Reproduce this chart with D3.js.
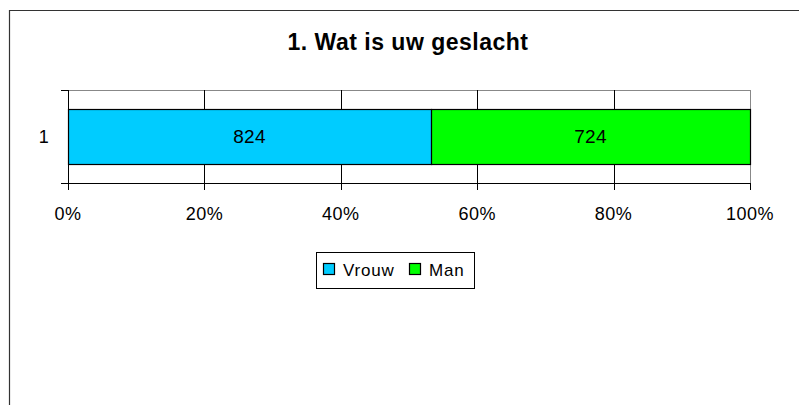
<!DOCTYPE html>
<html lang="nl">
<head>
  <meta charset="UTF-8">
  <title>1. Wat is uw geslacht</title>
  <script src="https://d3js.org/d3.v7.min.js"></script>
  <style>
    body { margin: 0; background: #fff; }
    text { font-family: "Liberation Sans", Arial, sans-serif; fill: #000; }
    .title { font-size: 23px; font-weight: bold; letter-spacing: 0.5px; }
    .tick-label { font-size: 18px; letter-spacing: 0.5px; }
    .bar-label { font-size: 19px; letter-spacing: 0.3px; }
    .legend-label { font-size: 17px; letter-spacing: 0.8px; }
  </style>
</head>
<body>
  <div id="chart"></div>
  <script>
    // data
    const categories = ["1"];
    const seriesNames = ["Vrouw", "Man"];
    const seriesColors = ["#00ccff", "#00ff00"];
    const vrouw = [824];
    const man = [724];
    const tickValues = [0, 0.2, 0.4, 0.6, 0.8, 1];

    const W = 799, H = 405;
    const plot = { left: 68, right: 750, top: 90, bottom: 183 };

    const svg = d3.select("#chart").append("svg")
      .attr("width", W).attr("height", H);

    // chart frame (only the top and left edges are visible)
    svg.append("path")
      .attr("d", `M9.5,${H} V10.5 H${W}`)
      .attr("fill", "none").attr("stroke", "#333").attr("stroke-width", 1.2);

    svg.append("text").attr("class", "title")
      .attr("x", 408).attr("y", 50).attr("text-anchor", "middle")
      .text("1. Wat is uw geslacht");

    const x = d3.scaleLinear().domain([0, 1]).range([plot.left, plot.right]);
    const y = d3.scaleBand().domain(categories)
      .range([plot.top, plot.bottom]).padding(0.257);

    // plot area border
    svg.append("rect")
      .attr("x", plot.left + 0.5).attr("y", plot.top + 0.5)
      .attr("width", plot.right - plot.left).attr("height", plot.bottom - plot.top)
      .attr("fill", "none").attr("stroke", "#888");

    // gridlines
    svg.selectAll(".grid").data(tickValues.slice(1, -1)).enter().append("line")
      .attr("x1", d => Math.round(x(d)) + 0.5).attr("x2", d => Math.round(x(d)) + 0.5)
      .attr("y1", plot.top).attr("y2", plot.bottom)
      .attr("stroke", "#000");

    // stacked bars (100%)
    const rows = categories.map((c, i) => {
      const total = vrouw[i] + man[i];
      return { cat: c, parts: [
        { name: seriesNames[0], v: vrouw[i], x0: 0, x1: vrouw[i] / total, color: seriesColors[0] },
        { name: seriesNames[1], v: man[i], x0: vrouw[i] / total, x1: 1, color: seriesColors[1] }
      ] };
    });

    rows.forEach(r => {
      const g = svg.append("g");
      g.selectAll("rect").data(r.parts).enter().append("rect")
        .attr("x", d => x(d.x0) + 0.5)
        .attr("y", Math.round(y(r.cat)) + 0.5)
        .attr("width", d => x(d.x1) - x(d.x0))
        .attr("height", Math.round(y.bandwidth()))
        .attr("fill", d => d.color)
        .attr("stroke", "#000").attr("stroke-width", 1.2);
      g.selectAll("text").data(r.parts).enter().append("text")
        .attr("class", "bar-label")
        .attr("x", d => (x(d.x0) + x(d.x1)) / 2)
        .attr("y", y(r.cat) + y.bandwidth() / 2)
        .attr("text-anchor", "middle").attr("dy", "0.36em")
        .text(d => d.v);
    });

    // category axis (left)
    svg.append("line")
      .attr("x1", plot.left + 0.5).attr("x2", plot.left + 0.5)
      .attr("y1", plot.top).attr("y2", plot.bottom + 7)
      .attr("stroke", "#000");
    svg.selectAll(".ctick").data([plot.top, plot.bottom]).enter().append("line")
      .attr("x1", plot.left - 7).attr("x2", plot.left)
      .attr("y1", d => d + 0.5).attr("y2", d => d + 0.5)
      .attr("stroke", "#000");
    svg.selectAll(".clabel").data(categories).enter().append("text")
      .attr("class", "tick-label")
      .attr("x", 44).attr("y", d => y(d) + y.bandwidth() / 2)
      .attr("text-anchor", "middle").attr("dy", "0.36em")
      .text(d => d);

    // value axis (bottom)
    svg.append("line")
      .attr("x1", plot.left).attr("x2", plot.right + 1)
      .attr("y1", plot.bottom + 0.5).attr("y2", plot.bottom + 0.5)
      .attr("stroke", "#000");
    svg.selectAll(".vtick").data(tickValues).enter().append("line")
      .attr("x1", d => Math.round(x(d)) + 0.5).attr("x2", d => Math.round(x(d)) + 0.5)
      .attr("y1", plot.bottom).attr("y2", plot.bottom + 7)
      .attr("stroke", "#000");
    svg.selectAll(".vlabel").data(tickValues).enter().append("text")
      .attr("class", "tick-label")
      .attr("x", d => x(d)).attr("y", 214)
      .attr("text-anchor", "middle").attr("dy", "0.36em")
      .text(d3.format(".0%"));

    // legend
    const lg = svg.append("g").attr("transform", "translate(316,252)");
    lg.append("rect").attr("x", 0.5).attr("y", 0.5).attr("width", 158).attr("height", 36)
      .attr("fill", "#fff").attr("stroke", "#000");
    const items = [{ name: seriesNames[0], color: seriesColors[0], x: 7 },
                   { name: seriesNames[1], color: seriesColors[1], x: 93 }];
    items.forEach(it => {
      lg.append("rect").attr("x", it.x + 0.5).attr("y", 11.5).attr("width", 11).attr("height", 11)
        .attr("fill", it.color).attr("stroke", "#000").attr("stroke-width", 1.2);
      lg.append("text").attr("class", "legend-label")
        .attr("x", it.x + 20).attr("y", 18).attr("dy", "0.36em")
        .text(it.name);
    });
  </script>
</body>
</html>
